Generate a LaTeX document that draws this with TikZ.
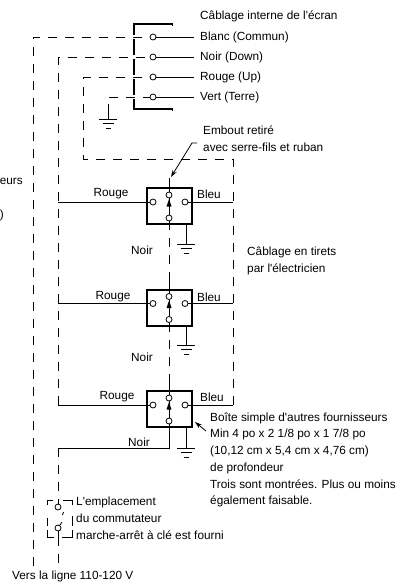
\documentclass[tikz,border=0pt]{standalone}
\usepackage{fontspec}
\setmainfont[Ligatures=TeXOff]{Liberation Sans}
\usetikzlibrary{arrows,arrows.meta,shapes}
\tikzstyle{terminal}=[fill=white, circle, draw, line width=0.8pt, inner sep=0pt, minimum size = 6pt]
\tikzstyle{wallbox}=[draw, line width=2pt, inner sep=0pt, minimum width = 45pt, minimum height = 36pt]
\tikzstyle{edge} = [draw,line width=0.8pt,-]
\tikzstyle{dashedge} = [draw,line width=0.8pt,dash pattern=on 9pt off 8pt]
\tikzstyle{thickedge} = [draw,line width=1.6pt]
\tikzstyle{note} = [draw=none, node font=\fontsize{11.8pt}{13pt}\selectfont, inner sep=0pt, align=left]
\tikzstyle{wirelabel} = [note, anchor=west, inner xsep=6pt]
\begin{document}
\begin{tikzpicture}[x=1pt,y=-1pt]
	\useasboundingbox (0,0) rectangle (404,584);
	% Screen connector and its leads
	\foreach \pos/\lead in {
		{(153,37)/blanc},
		{(153,57)/noirtop},
		{(153,77)/rougetop},
		{(153,97)/vert}}
	\node[terminal] (\lead) at \pos{};
	\node[wirelabel] (blanclabel) at (194,37) {Blanc (Commun)};
	\node[wirelabel] (noirlabel) at (194,57) {Noir (Down)};
	\node[wirelabel] (rougelabel) at (194,77) {Rouge (Up)};
	\node[wirelabel] (vertlabel) at (194,97) {Vert (Terre)};
	\foreach \source/ \dest in {
		blanc/blanclabel, noirtop/noirlabel, rougetop/rougelabel, vert/vertlabel}
	\path[edge] (\source) -- (\dest.west);
	\coordinate (conna) at (172,24);
	\coordinate (connb) at (134,24);
	\coordinate (connc) at (134,109);
	\coordinate (connd) at (172,109);
	\path[thickedge] (conna) -- (connb) -- (connc) -- (connd);
	\path[edge] ([yshift=-1.5pt]conna) -- ([yshift=1.5pt]conna);
	\path[edge] ([yshift=-1.5pt]connd) -- ([yshift=1.5pt]connd);
	% gaps in the connector where the wires cross it
	\foreach \gapy in {37,57,77,97}
	\path[draw=white,line width=4pt] (134,\gapy) -- (131,\gapy) -- (137,\gapy);

	% The three boxes
	\foreach \i/\y in {1/206, 2/307.5, 3/409}{
		\node[wallbox] (box\i) at (169.5,\y) {};
		\node[terminal] (left\i) at (153,\y-4) {};
		\node[terminal] (right\i) at (185,\y-4) {};
		\node[terminal] (up\i) at (169,\y-11) {};
		\node[terminal] (down\i) at (169,\y+12) {};
		\path[edge] (down\i) -- (up\i);
		\path[fill=black] (169,\y-7) -- (166.5,\y+0.5) -- (171.5,\y+0.5) -- cycle;
		\coordinate (in\i) at (169,\y-28);
	}

	% Grounds
	\foreach \gx/\gy/\gnd in {186/244/ga, 186/345/gb, 186/448/gc, 108/119/gd}{
		\coordinate (\gnd) at (\gx,\gy);
		\path[edge] ([xshift=-9pt]\gnd) -- ([xshift=9pt]\gnd);
		\path[edge] ([shift={(-5.5,4.5)}]\gnd) -- ([shift={(5.5,4.5)}]\gnd);
		\path[edge] ([shift={(-2.5,9)}]\gnd) -- ([shift={(2.5,9)}]\gnd);
	}
	\path[edge] (ga |- box1.south) -- (ga);
	\path[edge] (gb |- box2.south) -- (gb);
	\path[edge] (gc |- box3.south) -- (gc);

	% Corners of the field wiring
	\coordinate (blanccorner) at (33,37);
	\coordinate (blancend) at (33,566);
	\coordinate (noircorner) at (58,57);
	\coordinate (rougecorner) at (83,77);
	\coordinate (rougelow) at (83,159);
	\coordinate (rightcorner) at (233,159);
	\coordinate (vertcorner) at (108,97);
	\coordinate (vertend) at (108,113);
	\coordinate (noirend) at (58,404.5);
	\coordinate (rightend) at (233,404.5);

	% Dashed wires
	\path[dashedge] (blancend) -- (blanccorner) -- (blanc);
	\path[dashedge] (noirend) -- (noircorner) -- (noirtop);
	\path[dashedge] (rightend) -- (rightcorner) -- (rougelow) -- (rougecorner) -- (rougetop);
	\path[dashedge] (vertend) -- (vertcorner) -- (vert);
	\path[edge] (vertend) -- (gd);
	\foreach \source/ \dest in {down1/up2, down2/up3}
	\path[dashedge] (\source) -- (\dest);
	\path[edge] (in1) -- (up1);
	\path[edge] (in2) -- (up2);
	\path[edge] (in3) -- (up3);

	% Solid wires at the boxes
	\foreach \i in {1,2,3}{
		\path[edge] (left\i) -- (left\i -| noircorner);
		\path[edge] (right\i) -- (right\i -| rightcorner);
	}
	\coordinate (noirbend) at (169,448);
	\coordinate (noirleft) at (58,448);
	\path[edge] (down3) -- (noirbend) -- (noirleft);

	% Key switch
	\node[terminal] (keytop) at (58,507) {};
	\node[terminal] (keybot) at (58,528) {};
	\coordinate (linetop) at (58,500);
	\coordinate (linebot) at (58,537);
	\coordinate (lineend) at (58,566);
	\path[dashedge] (noirleft) -- (linetop);
	\path[edge] (linetop) -- (keytop);
	\path[edge] (keybot) -- (linebot);
	\path[dashedge] (linebot) -- (lineend);
	\path[edge] (keybot) -- (62,522);
	\path[edge] (62.5,515) -- (63.5,512);
	\path[edge] (53,500) -- (47,500) -- (47,505);
	\path[edge] (63,500) -- (72,500) -- (72,505);
	\path[edge] (47,518) -- (47,526);
	\path[edge] (72,516) -- (72,526);
	\path[edge] (47,530) -- (47,537) -- (54,537);
	\path[edge] (62,537) -- (72,537) -- (72,530);

	% Pointers
	\coordinate (embouttick) at (197,143);
	\coordinate (emboutbend) at (192,143);
	\coordinate (emboutend) at (171,177);
	\path[edge,-{Stealth[length=7pt,width=4.5pt]}] (embouttick) -- (emboutbend) -- (emboutend);
	\coordinate (boiteend) at (195,422);
	\coordinate (boitestart) at (206,431);
	\path[edge,-{Stealth[length=7pt,width=4.5pt]}] (boitestart) -- (boiteend);

	% Labels
	\foreach \lx/\ly/\lab/\txt in {
		200/16/internal/{Câblage interne de l'écran},
		203/130/emboutone/{Embout retiré},
		203/147/embouttwo/{avec serre-fils et ruban},
		247/252/tiretsone/{Câblage en tirets},
		247/269/tiretstwo/{par l'électricien},
		210/418/boitea/{Boîte simple d'autres fournisseurs},
		210/434.5/boiteb/{Min 4 po x 2 1/8 po x 1 7/8 po},
		210/451/boitec/{(10,12 cm x 5,4 cm x 4,76 cm)},
		210/468/boited/{de profondeur},
		210/484.5/boitee/{Trois sont montrées. Plus ou moins},
		210/501/boitef/{également faisable.},
		76/502/placea/{L'emplacement},
		76/518/placeb/{du commutateur},
		76/535/placec/{marche-arrêt à clé est fourni},
		12/576/vers/{Vers la ligne 110-120 V}}
	\node[note,anchor=west] (\lab) at (\lx,\ly) {\txt};

	\foreach \lx/\ly/\lab/\txt in {
		111/194/rougea/Rouge, 209/194/bleua/Bleu, 142/250/noira/Noir,
		113/297/rougeb/Rouge, 209/297/bleub/Bleu, 142/357/noirb/Noir,
		117/397/rougec/Rouge, 212/397/bleuc/Bleu, 139/442/noirc/Noir}
	\node[note] (\lab) at (\lx,\ly) {\txt};

	% Text at the page edge
	\node[note,anchor=east] (cuta) at (23,181) {eurs};
	\node[note,anchor=east] (cutc) at (4,215) {)};
\end{tikzpicture}
\end{document}
